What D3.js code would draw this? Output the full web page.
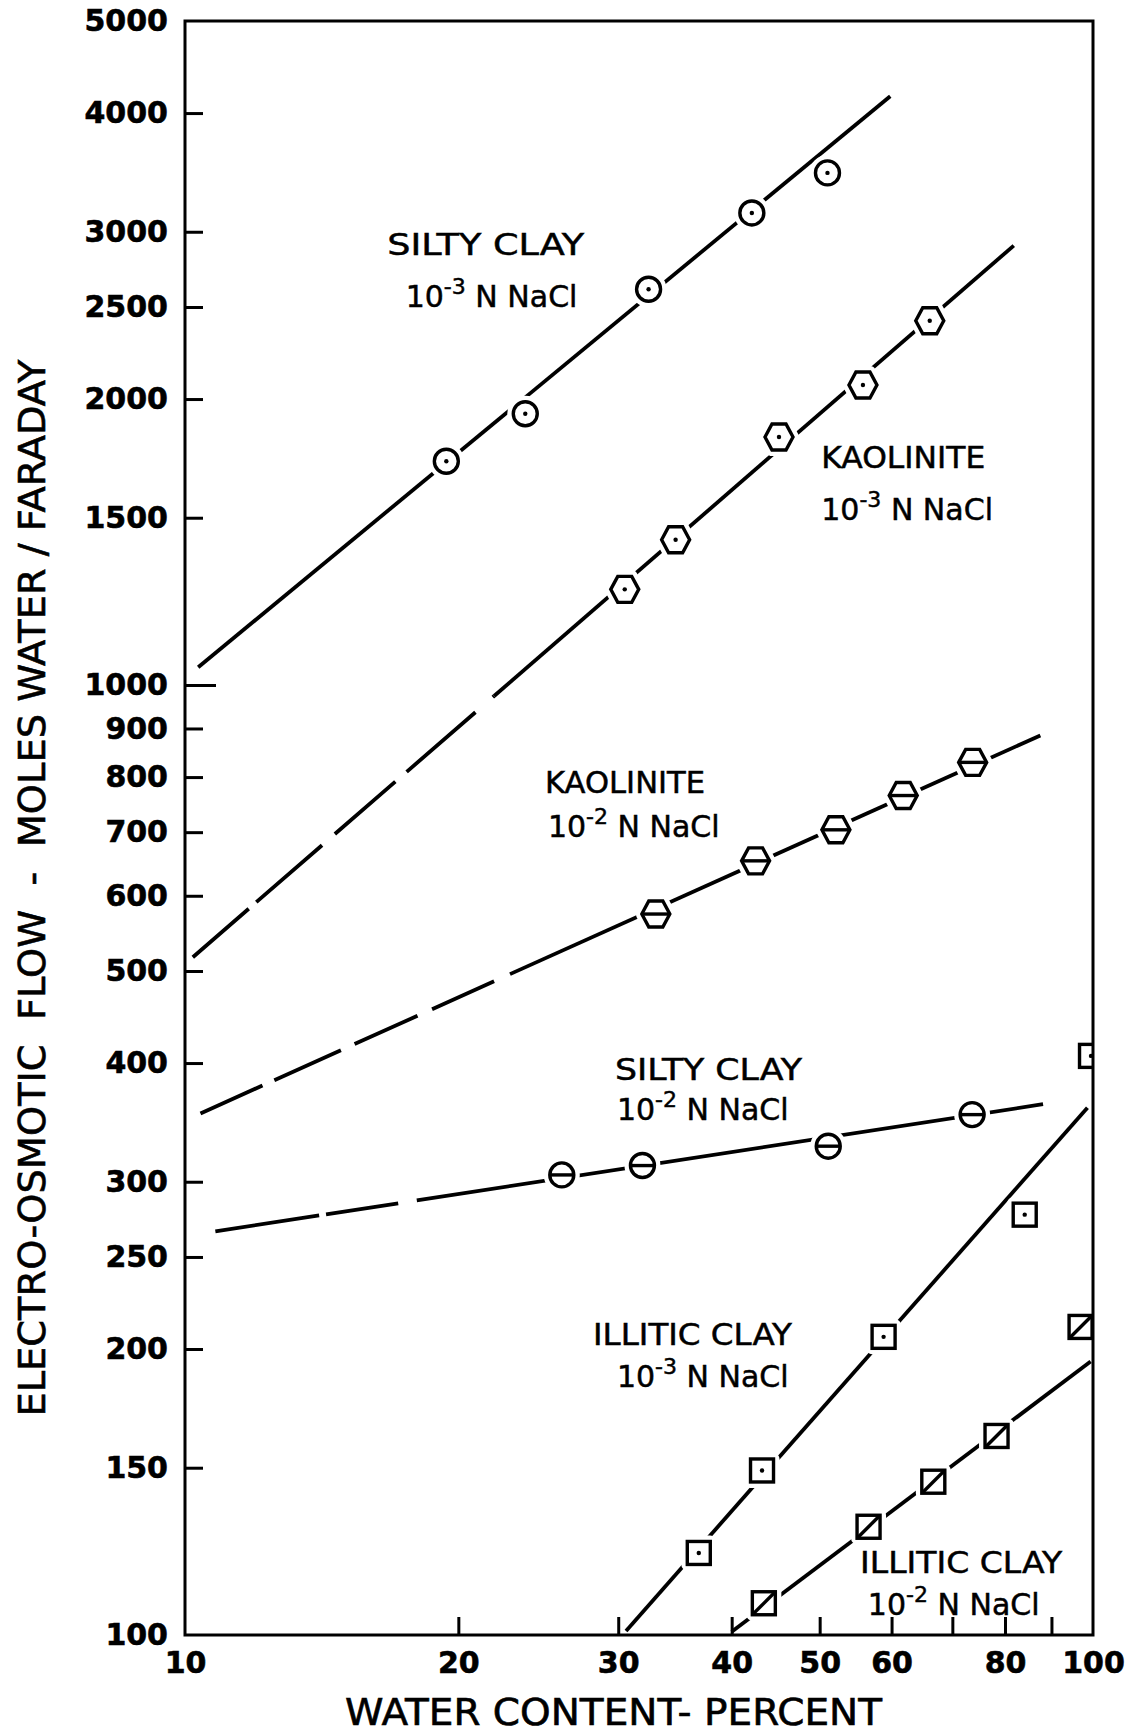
<!DOCTYPE html>
<html>
<head>
<meta charset="utf-8">
<script src="https://cdn.jsdelivr.net/npm/d3@7"></script>
<style>
  html, body { margin: 0; padding: 0; background: #fff; }
  svg { display: block; }
</style>
</head>
<body>
<svg id="chart" width="1135" height="1735"></svg>
<script>
// ---- Axis ticks and labels ----
const xTickValues = [20, 30, 40, 50, 60, 70, 80, 90];
const xTickLabels = [10, 20, 30, 40, 50, 60, 80, 100];
const yTickLabels = [100, 150, 200, 250, 300, 400, 500, 600, 700, 800, 900, 1000, 1500, 2000, 2500, 3000, 4000, 5000];

// ---- Measured points: [water content %, moles water per faraday] ----
const siltyClay3   = [[19.4, 1720], [23.7, 1930], [32.4, 2610], [42.1, 3140], [51.0, 3460]];
const kaolinite3   = [[30.5, 1261], [34.7, 1422], [45.1, 1824], [55.8, 2069], [66.1, 2418]];
const kaolinite2   = [[33.0, 574], [42.5, 653], [52.1, 704], [61.8, 765], [73.7, 829]];
const siltyClay2   = [[26.0, 305], [31.9, 312], [51.1, 327], [73.6, 353]];
const illiticClay3 = [[36.8, 122], [43.2, 149], [58.8, 206], [84.1, 277], [99.5, 407]];
const illiticClay2 = [[43.4, 108], [56.6, 130], [66.7, 145], [78.3, 162], [96.9, 211]];

// ---- Fitted lines: start and end points ----
const fitSiltyClay3   = [[10.34, 1044], [59.8, 4167]];
const fitKaolinite3   = [[10.2, 517], [81.8, 2901]];
const fitKaolinite2   = [[10.4, 354], [87.5, 885]];
const fitSiltyClay2   = [[10.8, 266], [88.1, 362]];
const fitIlliticClay3 = [[30.6, 101], [98.6, 359]];
const fitIlliticClay2 = [[40.0, 100.8], [99.4, 194]];

// Water content below which each fitted line is an extrapolation (drawn dashed)
const extrapolatedBelow = [null, 21.9, 22.8, 18.0, null, null];

// ---- Curve labels: title, concentration exponent, anchors [x, y] in data units ----
const labelTitles    = ["SILTY CLAY", "KAOLINITE", "KAOLINITE", "SILTY CLAY", "ILLITIC CLAY", "ILLITIC CLAY"];
const labelExponents = ["-3", "-3", "-2", "-2", "-3", "-2"];
const titleAnchors   = [[16.7, 2836], [50.2, 1692], [24.92, 770], [29.76, 384], [28.14, 202], [55.4, 116.2]];
const concAnchors    = [[17.5, 2502], [50.2, 1492], [25.1, 692], [29.9, 348.4], [29.9, 182.4], [56.5, 105.0]];

// ---- Layout and styling ----
const W = 1135, H = 1735;
const plot = { left: 185, right: 1093, top: 21, bottom: 1635 };
const titleWidths = [197, 164, 160, 187, 199, 202];
const dashPatterns = [null, "74 10 87 17 80 15 91 23", "68 13 73 15 69 16 68 18", "105 7 73 19", null, null];
const seriesShapes = [
  { shape: "circle",  inset: "dot"  },
  { shape: "hexagon", inset: "dot"  },
  { shape: "hexagon", inset: "hbar" },
  { shape: "circle",  inset: "hbar" },
  { shape: "square",  inset: "dot"  },
  { shape: "square",  inset: "diag" }
];
const pointSets = [siltyClay3, kaolinite3, kaolinite2, siltyClay2, illiticClay3, illiticClay2];
const fitSets   = [fitSiltyClay3, fitKaolinite3, fitKaolinite2, fitSiltyClay2, fitIlliticClay3, fitIlliticClay2];

const INK = "#000";
const LINE_W = 3.8;
const tickFont = "'DejaVu Sans', 'Liberation Sans', sans-serif";
const textFont = "'DejaVu Sans', 'Liberation Sans', sans-serif";

const svg = d3.select("#chart");
svg.append("rect").attr("width", W).attr("height", H).attr("fill", "#fff");

const x = d3.scaleLog().domain([10, 100]).range([plot.left, plot.right]);
const y = d3.scaleLog().domain([100, 5000]).range([plot.bottom, plot.top]);

svg.append("defs").append("clipPath").attr("id", "plot-clip")
  .append("rect")
  .attr("x", plot.left).attr("y", plot.top)
  .attr("width", plot.right - plot.left).attr("height", plot.bottom - plot.top);

const inner = svg.append("g").attr("clip-path", "url(#plot-clip)");

// ---- Fitted lines (extrapolated part dashed) ----
fitSets.forEach((fit, i) => {
  const p0 = [x(fit[0][0]), y(fit[0][1])];
  const p1 = [x(fit[1][0]), y(fit[1][1])];
  const split = extrapolatedBelow[i];
  const lineAt = px => [px, p0[1] + (p1[1] - p0[1]) * (px - p0[0]) / (p1[0] - p0[0])];
  if (split != null) {
    const pm = lineAt(x(split));
    inner.append("line")
      .attr("x1", p0[0]).attr("y1", p0[1]).attr("x2", pm[0]).attr("y2", pm[1])
      .attr("stroke", INK).attr("stroke-width", LINE_W)
      .attr("stroke-dasharray", dashPatterns[i]);
    inner.append("line")
      .attr("x1", pm[0]).attr("y1", pm[1]).attr("x2", p1[0]).attr("y2", p1[1])
      .attr("stroke", INK).attr("stroke-width", LINE_W);
  } else {
    inner.append("line")
      .attr("x1", p0[0]).attr("y1", p0[1]).attr("x2", p1[0]).attr("y2", p1[1])
      .attr("stroke", INK).attr("stroke-width", LINE_W);
  }
});

// ---- Marker outlines ----
const HEX = [[-14, 0], [-7, -13], [7, -13], [14, 0], [7, 13], [-7, 13]];
function drawShape(g, shape) {
  if (shape === "circle") return g.append("circle").attr("r", 12);
  if (shape === "hexagon") return g.append("polygon").attr("points", HEX.map(p => p.join(",")).join(" "));
  return g.append("rect").attr("x", -11.5).attr("y", -11.5).attr("width", 23).attr("height", 23);
}
function drawInset(g, shape, inset) {
  if (inset === "dot") {
    g.append("circle").attr("r", 2.2).attr("fill", INK).attr("stroke", "none");
  } else if (inset === "hbar") {
    const hw = shape === "hexagon" ? 14 : 12;
    g.append("line").attr("x1", -hw).attr("x2", hw).attr("y1", 0).attr("y2", 0);
  } else if (inset === "diag") {
    g.append("line").attr("x1", -11.5).attr("y1", 11.5).attr("x2", 11.5).attr("y2", -11.5);
  }
}

// White halos open a small gap in the lines around every marker
pointSets.forEach((pts, i) => {
  const st = seriesShapes[i];
  inner.append("g").selectAll("g").data(pts).join("g")
    .attr("transform", d => `translate(${x(d[0])},${y(d[1])})`)
    .each(function () {
      drawShape(d3.select(this), st.shape)
        .attr("fill", "#fff").attr("stroke", "#fff").attr("stroke-width", 12)
        .attr("stroke-linejoin", "round");
    });
});
pointSets.forEach((pts, i) => {
  const st = seriesShapes[i];
  inner.append("g").selectAll("g").data(pts).join("g")
    .attr("transform", d => `translate(${x(d[0])},${y(d[1])})`)
    .attr("stroke", INK).attr("stroke-width", 3.4).attr("fill", "none")
    .each(function () {
      const g = d3.select(this);
      drawShape(g, st.shape).attr("fill", "#fff");
      drawInset(g, st.shape, st.inset);
    });
});

// ---- Frame ----
svg.append("rect")
  .attr("x", plot.left).attr("y", plot.top)
  .attr("width", plot.right - plot.left).attr("height", plot.bottom - plot.top)
  .attr("fill", "none").attr("stroke", INK).attr("stroke-width", 3);

// ---- Y axis (ticks point inward) ----
const yAxis = svg.append("g")
  .attr("transform", `translate(${plot.left},0)`)
  .call(d3.axisLeft(y).tickValues(yTickLabels).tickSize(-18).tickPadding(17).tickFormat(d3.format("d")));
yAxis.select(".domain").remove();
yAxis.selectAll(".tick line")
  .attr("stroke", INK).attr("stroke-width", 3)
  .attr("x2", d => d === 1000 ? 31 : 18)
  .attr("display", d => (d === 100 || d === 5000) ? "none" : null);
yAxis.selectAll(".tick text")
  .attr("fill", INK).attr("stroke", INK).attr("stroke-width", 0.6)
  .attr("font-family", tickFont).attr("font-weight", "bold").attr("font-size", 30);

// ---- X axis (ticks point inward) ----
const xAll = [10].concat(xTickValues, [100]);
const xAxis = svg.append("g")
  .attr("transform", `translate(0,${plot.bottom})`)
  .call(d3.axisBottom(x).tickValues(xAll).tickSize(-18).tickPadding(17)
    .tickFormat(d => xTickLabels.includes(d) ? String(d) : ""));
xAxis.select(".domain").remove();
xAxis.selectAll(".tick line")
  .attr("stroke", INK).attr("stroke-width", 3)
  .attr("display", d => (d === 10 || d === 100) ? "none" : null);
xAxis.selectAll(".tick text")
  .attr("fill", INK).attr("stroke", INK).attr("stroke-width", 0.6)
  .attr("font-family", tickFont).attr("font-weight", "bold").attr("font-size", 30);

// ---- Axis titles ----
svg.append("text")
  .attr("x", (345 + 882) / 2).attr("y", 1725)
  .attr("text-anchor", "middle")
  .attr("font-family", textFont).attr("font-size", 37)
  .attr("fill", INK).attr("stroke", INK).attr("stroke-width", 0.6)
  .attr("textLength", 537).attr("lengthAdjust", "spacingAndGlyphs")
  .text("WATER CONTENT- PERCENT");

svg.append("text")
  .attr("transform", "translate(45,888) rotate(-90)")
  .attr("text-anchor", "middle")
  .attr("font-family", textFont).attr("font-size", 37)
  .attr("fill", INK).attr("stroke", INK).attr("stroke-width", 0.6)
  .attr("textLength", 1057).attr("lengthAdjust", "spacingAndGlyphs")
  .style("white-space", "pre")
  .text("ELECTRO-OSMOTIC  FLOW  -  MOLES WATER / FARADAY");

// ---- Curve labels ----
labelTitles.forEach((t, i) => {
  svg.append("text")
    .attr("x", x(titleAnchors[i][0])).attr("y", y(titleAnchors[i][1]))
    .attr("font-family", textFont).attr("font-size", 30)
    .attr("fill", INK).attr("stroke", INK).attr("stroke-width", 0.5)
    .attr("textLength", titleWidths[i]).attr("lengthAdjust", "spacingAndGlyphs")
    .style("white-space", "pre")
    .text(t);

  const c = svg.append("text")
    .attr("x", x(concAnchors[i][0])).attr("y", y(concAnchors[i][1]))
    .attr("font-family", textFont).attr("font-size", 30)
    .attr("fill", INK).attr("stroke", INK).attr("stroke-width", 0.5)
    .style("white-space", "pre");
  c.append("tspan").text("10");
  c.append("tspan").attr("font-size", 22).attr("dy", -13).text(labelExponents[i]);
  c.append("tspan").attr("dy", 13).text(" N NaCl");
});
</script>
</body>
</html>
